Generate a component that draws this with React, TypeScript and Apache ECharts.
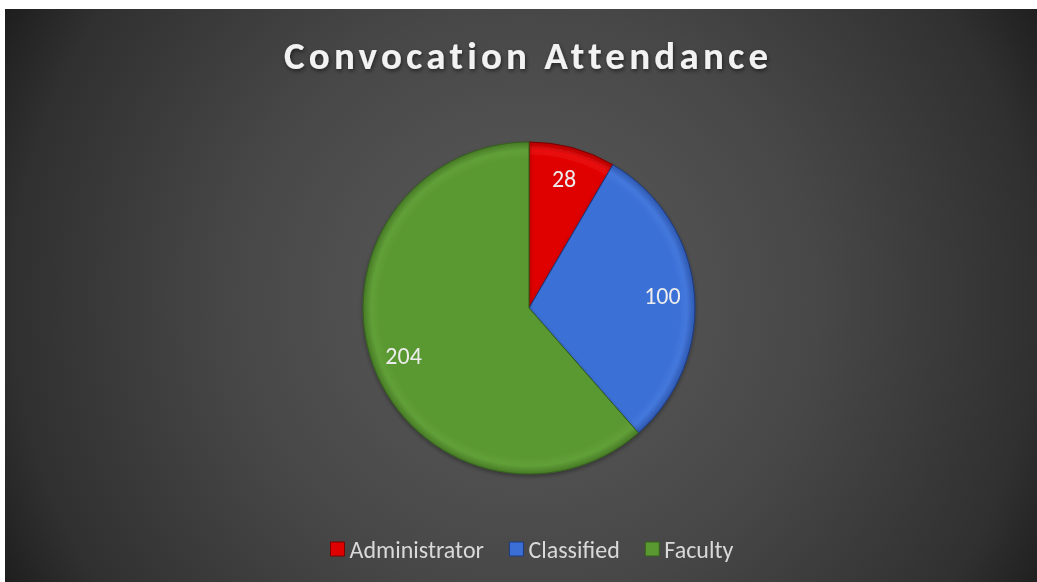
import React, { useEffect, useRef } from "react";
import * as echarts from "echarts";

const titleText = "Convocation Attendance";
const categories = ["Administrator", "Classified", "Faculty"];
const values = [28, 100, 204];
const colors = ["#df0000", "#3b6fd6", "#5a9832"];
const rimColors = ["#ea0d0d", "#4478dc", "#61a038"];
const edgeColors = ["#b00000", "#2d58b0", "#477a26"];
const borderColors = ["#7a0000", "#1d3a80", "#35601c"];

export default function App() {
  const ref = useRef<HTMLDivElement>(null);
  useEffect(() => {
    if (!ref.current) return;
    const el = ref.current;
    const chart = echarts.init(el, null, { renderer: "svg" });
    const font = "Carlito, 'Noto Sans', 'Open Sans', sans-serif";
    const cx = 524;
    const cy = 299;
    const R = 166;
    chart.setOption({
      animation: false,
      backgroundColor: {
        type: "radial",
        x: 520,
        y: 290,
        r: 590,
        global: true,
        colorStops: [
          { offset: 0, color: "#5c5c5c" },
          { offset: 0.5, color: "#474747" },
          { offset: 0.87, color: "#303030" },
          { offset: 1, color: "#1f1f1f" },
        ],
      },
      title: {
        text: titleText,
        left: 279,
        top: 27,
        padding: 0,
        textStyle: {
          color: "#f2f2f2",
          fontFamily: font,
          fontWeight: "bold",
          fontSize: 39,
          textShadowColor: "rgba(0,0,0,0.55)",
          textShadowBlur: 4,
          textShadowOffsetX: 1,
          textShadowOffsetY: 2,
        },
      },
      legend: {
        data: categories.map((name, i) => ({
          name,
          itemStyle: { color: colors[i], borderColor: borderColors[i], borderWidth: 1 },
        })),
        top: 528,
        left: 325,
        padding: 0,
        icon: "rect",
        itemWidth: 14,
        itemHeight: 14,
        itemGap: 25,
        textStyle: { color: "#d9d9d9", fontSize: 24, fontFamily: font },
      },
      series: [
        {
          type: "pie",
          center: [cx, cy],
          radius: [0, R],
          startAngle: 90,
          clockwise: true,
          silent: true,
          label: { show: false },
          labelLine: { show: false },
          data: categories.map((name, i) => ({
            name,
            value: values[i],
            itemStyle: {
              color: {
                type: "radial",
                x: cx,
                y: cy,
                r: R,
                global: true,
                colorStops: [
                  { offset: 0, color: colors[i] },
                  { offset: 0.9, color: colors[i] },
                  { offset: 0.95, color: rimColors[i] },
                  { offset: 1, color: edgeColors[i] },
                ],
              },
              borderColor: borderColors[i],
              borderWidth: 1,
              shadowColor: "rgba(0,0,0,0.35)",
              shadowBlur: 4,
              shadowOffsetY: 2,
            },
          })),
        },
        {
          type: "pie",
          center: [cx, cy],
          radius: [96, R],
          startAngle: 90,
          clockwise: true,
          silent: true,
          legendHoverLink: false,
          itemStyle: { color: "rgba(0,0,0,0)" },
          label: {
            show: true,
            position: "inside",
            formatter: "{c}",
            color: "#ececec",
            fontSize: 24,
            fontFamily: font,
          },
          labelLine: { show: false },
          data: categories.map((name, i) => ({ name, value: values[i] })),
        },
      ],
    });
    const applySpacing = () => {
      el.querySelectorAll("text").forEach((t) => {
        if (t.textContent === titleText) {
          t.setAttribute("letter-spacing", "4.2px");
          (t as SVGTextElement).style.letterSpacing = "4.2px";
        }
      });
    };
    applySpacing();
    chart.on("finished", applySpacing);
    return () => chart.dispose();
  }, []);
  return (
    <div
      ref={ref}
      style={{ position: "fixed", left: 5, top: 9, width: 1032, height: 573 }}
    />
  );
}
